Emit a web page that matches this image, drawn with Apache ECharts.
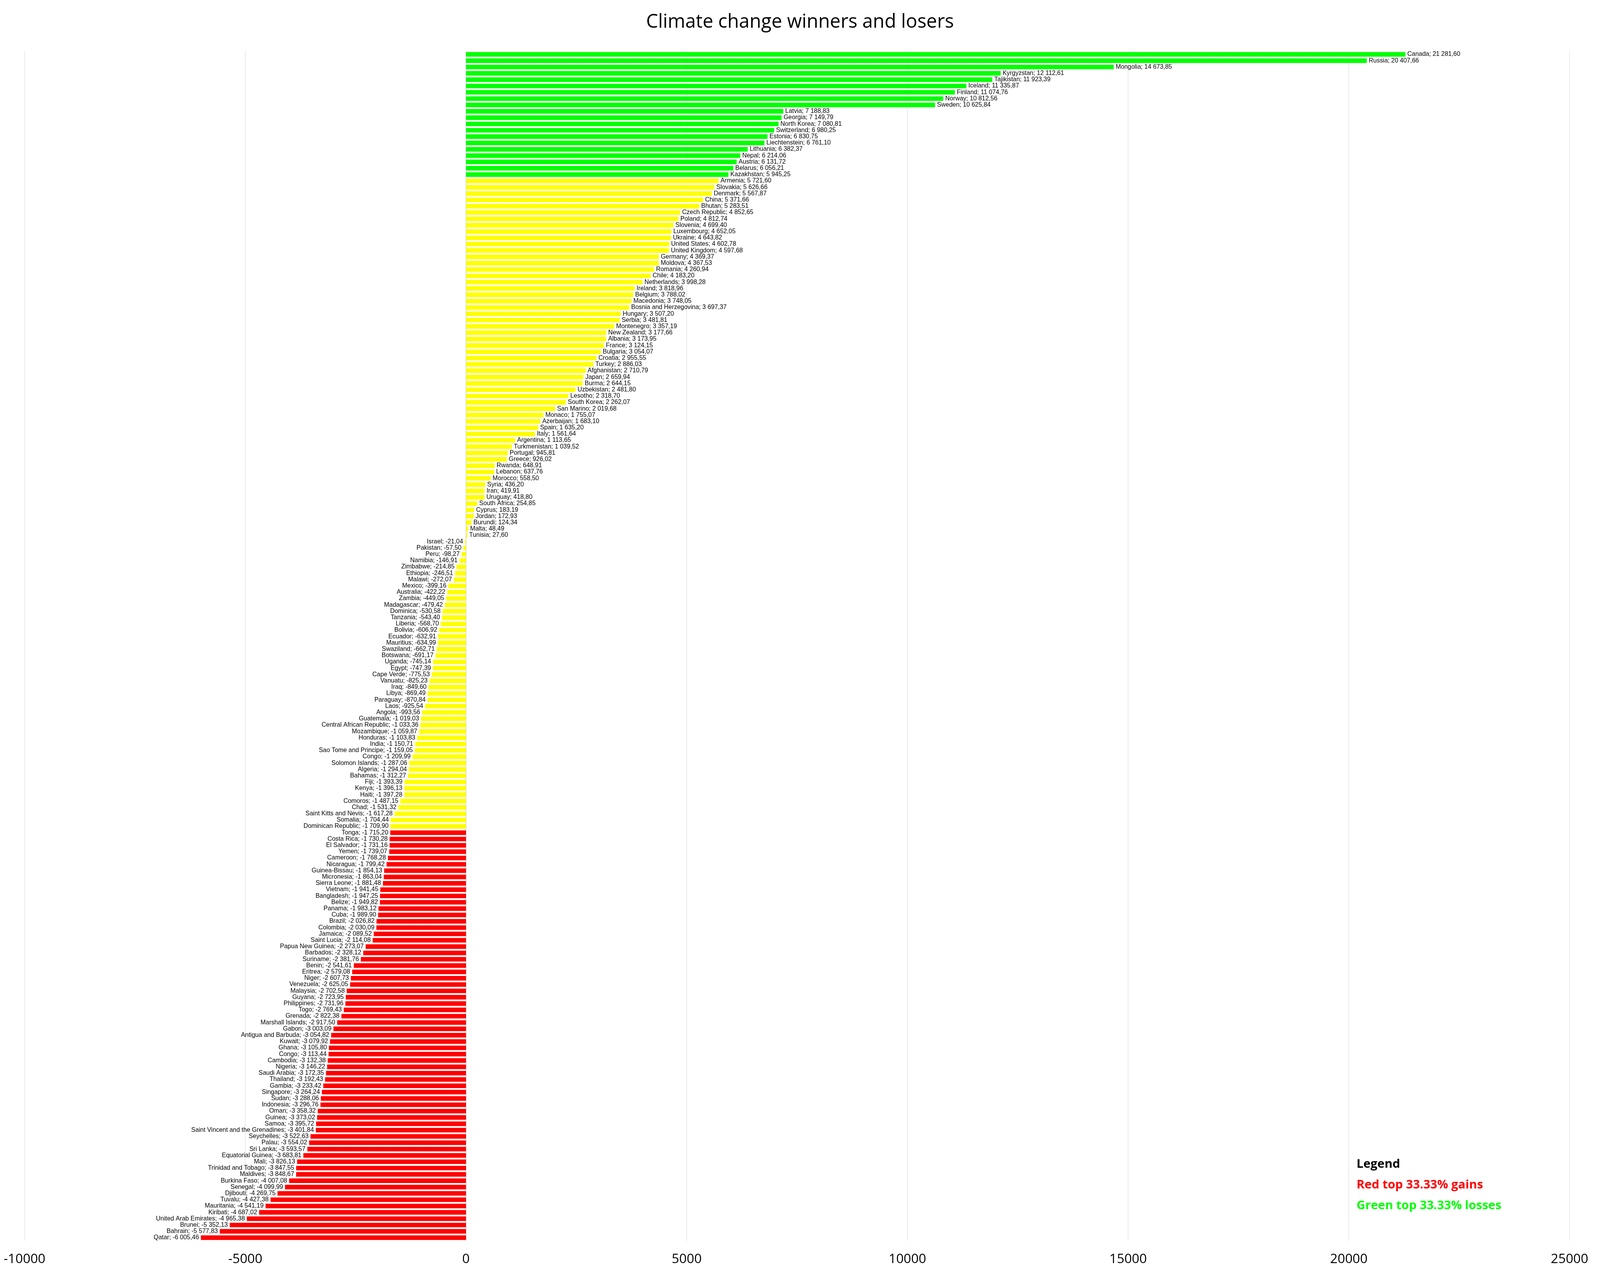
<!DOCTYPE html>
<html>
<head>
<meta charset="utf-8">
<script src="https://cdn.jsdelivr.net/npm/echarts@6/dist/echarts.min.js"></script>
<style>html,body{margin:0;padding:0;background:#fff;width:100%;height:100%;overflow:hidden}#main{width:100vw;height:100vh}</style>
</head>
<body>
<div id="main"></div>
<script>
// green group (top)
var greenNames = ['Canada','Russia','Mongolia','Kyrgyzstan','Tajikistan','Iceland','Finland','Norway','Sweden','Latvia','Georgia','North Korea','Switzerland','Estonia','Liechtenstein','Lithuania','Nepal','Austria','Belarus','Kazakhstan'];
var greenValues = [21281.60,20407.66,14673.85,12112.61,11923.39,11335.87,11074.76,10812.56,10625.84,7188.83,7149.79,7080.81,6980.25,6830.75,6761.10,6382.37,6214.06,6131.72,6056.21,5945.25];

// yellow group (middle)
var yellowNames = ['Armenia','Slovakia','Denmark','China','Bhutan','Czech Republic','Poland','Slovenia','Luxembourg','Ukraine','United States','United Kingdom','Germany','Moldova','Romania','Chile','Netherlands','Ireland','Belgium','Macedonia','Bosnia and Herzegovina','Hungary','Serbia','Montenegro','New Zealand','Albania','France','Bulgaria','Croatia','Turkey','Afghanistan','Japan','Burma','Uzbekistan','Lesotho','South Korea','San Marino','Monaco','Azerbaijan','Spain','Italy','Argentina','Turkmenistan','Portugal','Greece','Rwanda','Lebanon','Morocco','Syria','Iran','Uruguay','South Africa','Cyprus','Jordan','Burundi','Malta','Tunisia',
  'Israel','Pakistan','Peru','Namibia','Zimbabwe','Ethiopia','Malawi','Mexico','Australia','Zambia','Madagascar','Dominica','Tanzania','Liberia','Bolivia','Ecuador','Mauritius','Swaziland','Botswana','Uganda','Egypt','Cape Verde','Vanuatu','Iraq','Libya','Paraguay','Laos','Angola','Guatemala','Central African Republic','Mozambique','Honduras','India','Sao Tome and Principe','Congo','Solomon Islands','Algeria','Bahamas','Fiji','Kenya','Haiti','Comoros','Chad','Saint Kitts and Nevis','Somalia','Dominican Republic'];
var yellowValues = [5721.60,5626.66,5567.87,5371.66,5283.51,4852.65,4812.74,4699.40,4652.05,4643.82,4602.78,4597.68,4369.37,4367.53,4260.94,4183.20,3998.28,3818.96,3788.02,3748.05,3697.37,3507.20,3481.81,3357.19,3177.66,3173.95,3124.15,3054.07,2955.55,2886.03,2710.79,2659.94,2644.15,2481.80,2318.70,2262.07,2019.68,1755.07,1683.10,1635.20,1561.64,1113.65,1039.52,945.81,926.02,648.91,637.76,558.50,436.20,419.91,418.80,254.85,183.19,172.93,124.34,48.49,27.60,
  -21.04,-57.50,-98.27,-146.91,-214.85,-246.51,-272.07,-399.16,-422.22,-449.05,-479.42,-530.58,-543.40,-568.70,-606.92,-632.91,-634.99,-662.71,-691.17,-745.14,-747.39,-775.53,-825.23,-849.60,-869.49,-870.84,-925.54,-993.56,-1019.03,-1033.36,-1059.87,-1103.83,-1150.71,-1159.05,-1209.99,-1287.06,-1294.04,-1312.27,-1393.39,-1396.13,-1397.28,-1487.15,-1531.32,-1617.28,-1704.44,-1709.90];

// red group (bottom)
var redNames = ['Tonga','Costa Rica','El Salvador','Yemen','Cameroon','Nicaragua','Guinea-Bissau','Micronesia','Sierra Leone','Vietnam','Bangladesh','Belize','Panama','Cuba','Brazil','Colombia','Jamaica','Saint Lucia','Papua New Guinea','Barbados','Suriname','Benin','Eritrea','Niger','Venezuela','Malaysia','Guyana','Philippines','Togo','Grenada','Marshall Islands','Gabon','Antigua and Barbuda','Kuwait','Ghana','Congo','Cambodia','Nigeria','Saudi Arabia','Thailand','Gambia','Singapore','Sudan','Indonesia','Oman','Guinea','Samoa','Saint Vincent and the Grenadines','Seychelles','Palau','Sri Lanka','Equatorial Guinea','Mali','Trinidad and Tobago','Maldives','Burkina Faso','Senegal','Djibouti','Tuvalu','Mauritania','Kiribati','United Arab Emirates','Brunei','Bahrain','Qatar'];
var redValues = [-1715.20,-1730.28,-1731.16,-1739.07,-1768.28,-1799.42,-1854.13,-1863.04,-1881.48,-1941.45,-1947.25,-1949.82,-1983.12,-1989.90,-2026.82,-2030.09,-2089.52,-2114.08,-2273.07,-2328.12,-2381.76,-2541.61,-2579.08,-2607.73,-2625.05,-2702.58,-2723.95,-2731.96,-2769.43,-2822.38,-2917.50,-3003.09,-3054.82,-3079.92,-3105.80,-3113.44,-3132.38,-3146.22,-3172.35,-3192.43,-3233.42,-3264.24,-3288.06,-3296.76,-3358.32,-3373.02,-3395.72,-3401.84,-3522.63,-3554.02,-3593.57,-3683.81,-3826.13,-3847.55,-3848.67,-4007.08,-4099.99,-4269.75,-4427.38,-4541.19,-4687.02,-4965.38,-5352.13,-5577.83,-6005.46];

function fmt(v){
  var s = Math.abs(v).toFixed(2).split('.');
  var ip = s[0].replace(/\B(?=(\d{3})+(?!\d))/g,' ');
  return (v<0?'-':'') + ip + ',' + s[1];
}

var names = greenNames.concat(yellowNames, redNames);
var items = [];
function push(ns, vs, color){
  for (var i=0;i<ns.length;i++){
    items.push({
      value: vs[i],
      itemStyle: {color: color},
      label: {position: vs[i] >= 0 ? 'right' : 'left'}
    });
  }
}
push(greenNames, greenValues, '#00ff00');
push(yellowNames, yellowValues, '#ffff00');
push(redNames, redValues, '#ff0000');

var chart = echarts.init(document.getElementById('main'));
// everything below is laid out for a 4883px wide canvas and scaled to the real size
var k = chart.getWidth() / 4883;
var kh = chart.getHeight() / 3266;
var font = '"Liberation Sans Narrow", "Liberation Sans", sans-serif';
var lf = Math.round(37 * k) + 'px "Open Sans", sans-serif';
chart.setOption({
  animation: false,
  backgroundColor: '#fff',
  title: {
    text: 'Climate change winners and losers',
    left: 'center', top: 28 * kh,
    textStyle: {fontSize: 58 * k, fontWeight: 'normal', color: '#000', fontFamily: '"Open Sans", sans-serif'}
  },
  grid: {left: 75 * k, right: 93 * k, top: 131 * kh, bottom: 90 * kh, containLabel: false},
  xAxis: {
    type: 'value', min: -10000, max: 25000, interval: 5000,
    axisLine: {show: false}, axisTick: {show: false},
    splitLine: {lineStyle: {color: '#e6e6e6', width: 2 * k}},
    axisLabel: {fontSize: 40 * k, color: '#000', margin: 30 * kh, fontFamily: '"Open Sans", sans-serif',
      formatter: function(v){ return String(v); }}
  },
  yAxis: {
    type: 'category', data: names, inverse: true,
    axisLabel: {show: false}, axisTick: {show: false},
    axisLine: {show: true, lineStyle: {color: '#d9d9d9', width: 2 * k}}
  },
  series: [{
    type: 'bar',
    data: items,
    barCategoryGap: '28%',
    label: {
      show: true, distance: 6 * k, fontSize: 19 * k, color: '#000', fontFamily: font,
      formatter: function(p){ return names[p.dataIndex] + '; ' + fmt(p.value); }
    }
  }],
  graphic: [
    {type: 'text', left: 4140 * k, top: 2965 * kh, style: {text: 'Legend', fill: '#000', font: 'bold ' + lf}},
    {type: 'text', left: 4140 * k, top: 3018 * kh, style: {text: 'Red top 33.33% gains', fill: '#ff0000', font: 'bold ' + lf}},
    {type: 'text', left: 4140 * k, top: 3071 * kh, style: {text: 'Green top 33.33% losses', fill: '#00ff00', font: 'bold ' + lf}}
  ]
});
</script>
</body>
</html>
